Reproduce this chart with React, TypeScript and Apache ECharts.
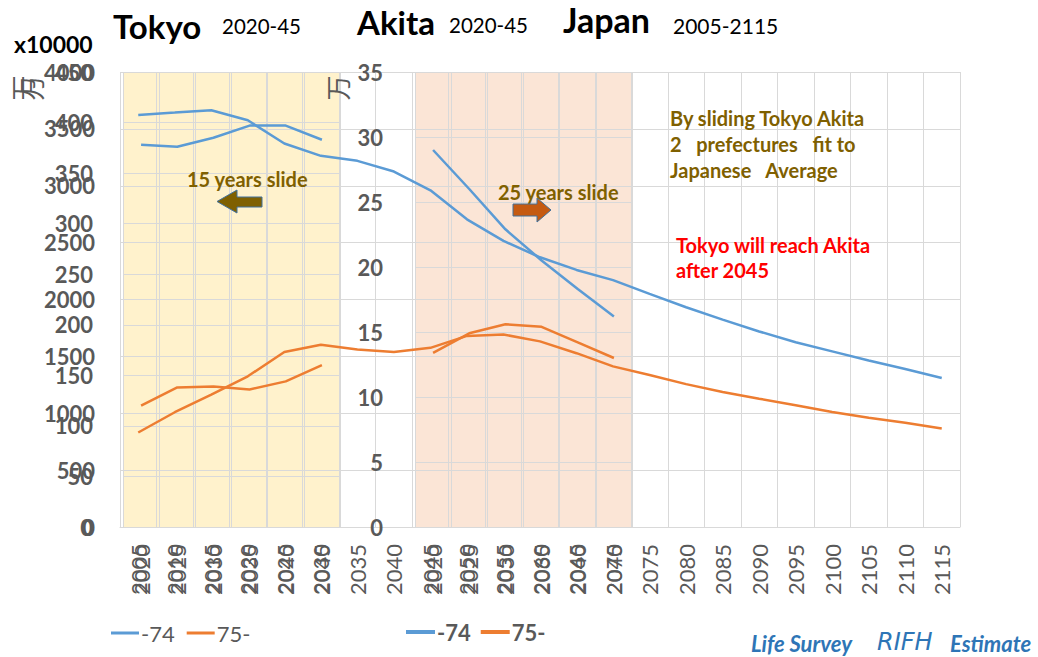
import React, { useEffect, useRef } from "react";
import * as echarts from "echarts";

// ---------- data ----------
const japanYears = ["2005","2010","2015","2020","2025","2030","2035","2040","2045","2050","2055","2060","2065","2070","2075","2080","2085","2090","2095","2100","2105","2110","2115"];
const japanUnder74 = [3623,3643,3664,3576,3371,3263,3219,3125,2960,2705,2515,2371,2260,2170,2049,1932,1823,1719,1624,1544,1463,1389,1310];
const japanOver75 = [831,1009,1164,1325,1538,1603,1561,1538,1575,1680,1692,1632,1528,1412,1336,1256,1187,1128,1070,1011,960,917,866];

const tokyoYears = ["2020","2025","2030","2035","2040","2045"];
const tokyoUnder74 = [378,376,385,397,397,383];
const tokyoOver75 = [120,138,139,136,144,160];

const akitaYears = ["2020","2025","2030","2035","2040","2045"];
const akitaUnder74 = [29.0,26.0,22.9,20.5,18.3,16.2];
const akitaOver75 = [13.4,14.9,15.6,15.4,14.2,13.0];

const japanTicks = { min: 0, max: 4000, interval: 500 };
const tokyoTicks = { min: 0, max: 450, interval: 50 };
const akitaTicks = { min: 0, max: 35, interval: 5 };

const BLUE = "#5B9BD5";
const ORANGE = "#ED7D31";
const GRAY = "#595959";
const GRID = "#D9D9D9";
const FONT = "Lato";

export default function App() {
  const ref = useRef<HTMLDivElement>(null);
  useEffect(() => {
    if (!ref.current) return;
    const chart = echarts.init(ref.current, null, { renderer: "svg" });

    const xAxisBase = (gridIndex: number, data: string[]) => ({
      type: "category",
      gridIndex,
      data,
      boundaryGap: true,
      z: 1,
      axisTick: { show: false },
      axisLine: { show: true, lineStyle: { color: GRID, width: 1 } },
      splitLine: { show: true, interval: 0, lineStyle: { color: GRID, width: 1 } },
      axisLabel: { rotate: 90, margin: 17, interval: 0, fontSize: 22, color: GRAY, fontFamily: FONT },
    });
    const yAxisBase = (gridIndex: number, ticks: any, margin: number) => ({
      type: "value",
      gridIndex,
      ...ticks,
      z: 1,
      axisLine: { show: false },
      axisTick: { show: false },
      splitLine: { show: true, lineStyle: { color: GRID, width: 1 } },
      axisLabel: {
        margin, fontSize: 22, fontWeight: "bold", color: GRAY, fontFamily: FONT,
        formatter: (v: number) => String(v),
      },
    });
    const lineSeries = (name: string, data: number[], color: string, idx: number) => ({
      type: "line",
      name,
      data,
      xAxisIndex: idx,
      yAxisIndex: idx,
      symbol: "none",
      z: 3,
      lineStyle: { color, width: 2.5 },
      itemStyle: { color },
    });

    const txt = (text: string, x: number, y: number, size: number, fill: string, weight = "bold", extra: any = {}) => ({
      type: "text",
      x,
      y,
      z: 10,
      style: { text, fontSize: size, fontWeight: weight, fill, fontFamily: FONT, align: "left", verticalAlign: "middle", ...extra },
    });
    const man = (x: number) => ({
      type: "text", x, y: 88, rotation: Math.PI / 2, z: 10,
      style: { text: "万", fontSize: 25, fill: GRAY, fontFamily: "Noto Sans CJK JP", align: "center", verticalAlign: "middle" },
    });

    chart.setOption({
      animation: false,
      backgroundColor: "#ffffff",
      grid: [
        { left: 120, top: 72, width: 840, height: 455, show: false, z: 0 },
        { left: 123, top: 72, width: 217, height: 455, show: true, backgroundColor: "#FFF2CC", borderWidth: 0, z: 0 },
        { left: 415, top: 72, width: 217, height: 455, show: true, backgroundColor: "#FBE5D6", borderWidth: 0, z: 0 },
      ],
      xAxis: [xAxisBase(0, japanYears), xAxisBase(1, tokyoYears), xAxisBase(2, akitaYears)],
      yAxis: [yAxisBase(0, japanTicks, 25), yAxisBase(1, tokyoTicks, 30), yAxisBase(2, akitaTicks, 32)],
      legend: [
        {
          left: 106, top: 617, icon: "rect", itemWidth: 28, itemHeight: 3, itemGap: 12,
          data: ["-74", "75-"],
          textStyle: { fontSize: 22, color: GRAY, fontFamily: FONT, padding: [0, 0, 0, -3] },
        },
        {
          left: 401, top: 616, icon: "rect", itemWidth: 29, itemHeight: 4, itemGap: 10,
          data: ["-74", "75-"],
          textStyle: { fontSize: 22, fontWeight: "bold", color: GRAY, fontFamily: FONT, padding: [0, 0, 0, -3] },
        },
      ],
      series: [
        lineSeries("-74", japanUnder74, BLUE, 0),
        lineSeries("75-", japanOver75, ORANGE, 0),
        lineSeries("-74", tokyoUnder74, BLUE, 1),
        lineSeries("75-", tokyoOver75, ORANGE, 1),
        lineSeries("-74", akitaUnder74, BLUE, 2),
        lineSeries("75-", akitaOver75, ORANGE, 2),
      ],
      graphic: [
        txt("Tokyo", 113, 26, 33, "#000000"),
        txt("2020-45", 222, 26, 20.5, "#000000", "normal"),
        txt("Akita", 357, 22, 33, "#000000"),
        txt("2020-45", 449, 25, 20.5, "#000000", "normal"),
        txt("Japan", 563, 19, 34, "#000000"),
        txt("2005-2115", 673, 25, 21, "#000000", "normal"),
        txt("x10000", 14, 44, 23, "#000000"),
        man(22),
        man(31),
        man(337),
        txt("15 years slide", 187, 179, 20, "#7F6000"),
        {
          type: "polygon", z: 10,
          shape: { points: [[217, 201.5], [237, 190], [237, 197], [262, 197], [262, 207], [237, 207], [237, 213]] },
          style: { fill: "#7F6000", stroke: "#41719C", lineWidth: 1 },
        },
        txt("25 years slide", 498, 192, 20, "#7F6000"),
        {
          type: "polygon", z: 10,
          shape: { points: [[513, 204], [537, 204], [537, 198], [551, 210], [537, 222], [537, 216], [513, 216]] },
          style: { fill: "#C55A11", stroke: "#41719C", lineWidth: 1 },
        },
        txt("By sliding Tokyo Akita", 670, 118, 20, "#7F6000"),
        txt("2   prefectures   fit to", 670, 144, 20, "#7F6000"),
        txt("Japanese   Average", 670, 170, 20, "#7F6000"),
        txt("Tokyo will reach Akita", 676, 245, 20, "#FF0000"),
        txt("after 2045", 676, 270, 20, "#FF0000"),
        txt("Life Survey", 751, 643, 22, "#2E75B6", "bold", { fontStyle: "italic" }),
        txt("RIFH", 877, 642, 24, "#2E75B6", "normal", { fontStyle: "italic", fontFamily: "DejaVu Sans" }),
        txt("Estimate", 950, 643, 22, "#2E75B6", "bold", { fontStyle: "italic" }),
      ],
    });
    return () => chart.dispose();
  }, []);
  return <div ref={ref} style={{ position: "fixed", left: 0, top: 0, width: 1038, height: 657 }} />;
}
